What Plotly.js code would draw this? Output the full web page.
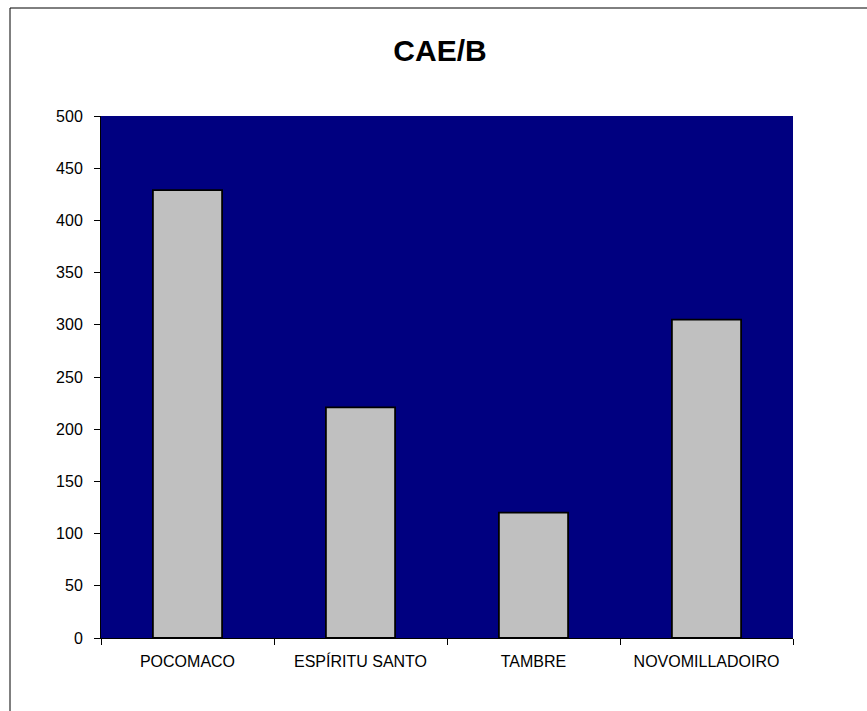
<!DOCTYPE html>
<html><head><meta charset="utf-8">
<script src="https://cdn.plot.ly/plotly-3.0.1.min.js"></script>
<style>html,body{margin:0;padding:0;background:#fff}#chart{width:867px;height:711px}</style>
</head><body><div id="chart"></div>
<script>
const categories = ["POCOMACO", "ESPÍRITU SANTO", "TAMBRE", "NOVOMILLADOIRO"];
const values = [429, 221, 120, 305];
const yTicks = [0, 50, 100, 150, 200, 250, 300, 350, 400, 450, 500];

const W = 867, H = 711;
const m = {l: 101, r: 74, t: 116, b: 73};
const pw = W - m.l - m.r, ph = H - m.t - m.b;

const trace = {
  type: 'bar', x: categories, y: values,
  marker: {color: '#C0C0C0', line: {color: '#000000', width: 1.8}},
  hoverinfo: 'x+y'
};
const layout = {
  width: W, height: H, margin: m,
  paper_bgcolor: '#ffffff', plot_bgcolor: '#000080',
  showlegend: false, bargap: 0.6,
  font: {family: 'Liberation Sans, Arial, sans-serif', color: '#000', size: 16},
  title: {text: '<b>CAE/B</b>', x: 440 / W, xanchor: 'center', y: 1 - 50/H, yanchor: 'middle',
          font: {size: 30, family: 'Liberation Sans, Arial, sans-serif', color: '#000'}},
  xaxis: {type: 'category', showgrid: false, zeroline: false, showline: true, linecolor: '#000', linewidth: 1,
          ticks: 'outside', ticklen: 6, tickcolor: '#000', tickson: 'boundaries',
          ticklabelstandoff: 9, tickfont: {size: 16}, fixedrange: true},
  yaxis: {range: [0, 500], tickvals: yTicks, ticktext: yTicks.map(String), showgrid: false, zeroline: false,
          showline: true, linecolor: '#000', linewidth: 1, ticks: 'outside', ticklen: 6, tickcolor: '#000',
          ticklabelstandoff: 8, tickfont: {size: 16}, fixedrange: true},
  shapes: [{type: 'rect', xref: 'paper', yref: 'paper',
            x0: (10 - m.l) / pw, x1: (W + 20 - m.l) / pw,
            y0: (H - m.b - (H + 20)) / ph, y1: (H - m.b - 8) / ph,
            line: {color: '#000', width: 1}, fillcolor: 'rgba(0,0,0,0)', layer: 'below'}]
};
Plotly.newPlot('chart', [trace], layout, {displayModeBar: false, staticPlot: true});
</script></body></html>
